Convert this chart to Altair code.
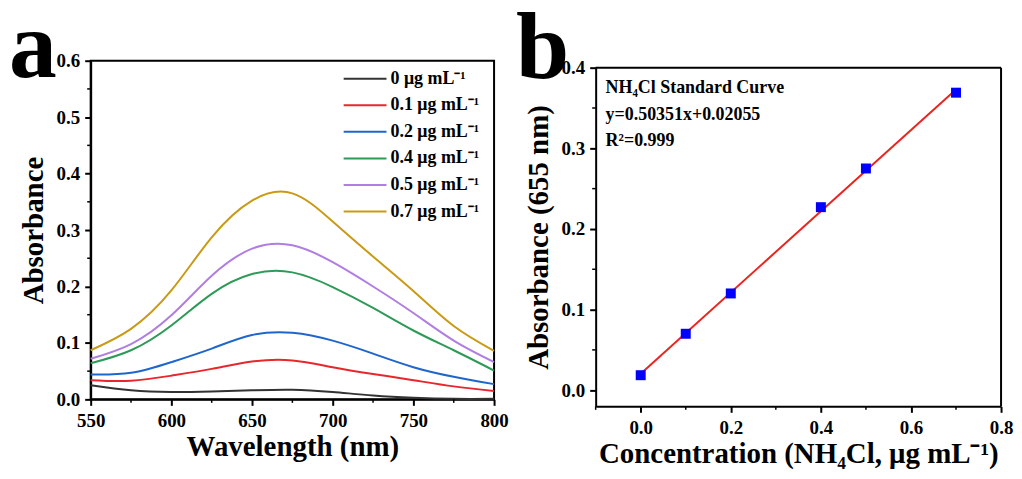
import altair as alt
import pandas as pd

FONT = "Liberation Serif"

# ---------------- Panel a data ----------------
wavelengths = [550, 575, 600, 625, 650, 675, 700, 725, 750, 775, 800]
series_labels = ["0 μg mL⁻¹", "0.1 μg mL⁻¹", "0.2 μg mL⁻¹",
                 "0.4 μg mL⁻¹", "0.5 μg mL⁻¹", "0.7 μg mL⁻¹"]
series_colors = ["#333333", "#e8262d", "#1f66cc", "#2e9a58", "#b07ee0", "#c99a14"]
abs_0 = [0.025, 0.016, 0.013, 0.014, 0.016, 0.017, 0.013, 0.007, 0.003, 0.001, 0.001]
abs_01 = [0.034, 0.033, 0.042, 0.054, 0.067, 0.069, 0.057, 0.045, 0.034, 0.023, 0.015]
abs_02 = [0.044, 0.047, 0.066, 0.090, 0.114, 0.118, 0.104, 0.081, 0.057, 0.040, 0.027]
abs_04 = [0.064, 0.087, 0.131, 0.187, 0.222, 0.225, 0.199, 0.162, 0.122, 0.087, 0.051]
abs_05 = [0.072, 0.098, 0.149, 0.219, 0.267, 0.273, 0.243, 0.200, 0.153, 0.104, 0.066]
abs_07 = [0.087, 0.125, 0.193, 0.287, 0.352, 0.365, 0.315, 0.253, 0.192, 0.130, 0.086]

x_ticks_a = [550, 600, 650, 700, 750, 800]
x_minor_a = [575, 625, 675, 725, 775]
y_ticks_a = [0.0, 0.1, 0.2, 0.3, 0.4, 0.5, 0.6]
y_minor_a = [0.05, 0.15, 0.25, 0.35, 0.45, 0.55]

# ---------------- Panel b data ----------------
conc = [0.0, 0.1, 0.2, 0.4, 0.5, 0.7]
abs655 = [0.0186, 0.070, 0.120, 0.227, 0.275, 0.369]
fit_x = [0.0, 0.7]
fit_y = [0.02055, 0.37301]
x_dom_b = [-0.1, 0.8]
y_dom_b = [-0.02, 0.4]
x_ticks_b = [0.0, 0.2, 0.4, 0.6, 0.8]
x_minor_b = [-0.1, 0.1, 0.3, 0.5, 0.7]
y_ticks_b = [0.0, 0.1, 0.2, 0.3, 0.4]
y_minor_b = [0.05, 0.15, 0.25, 0.35]
notes_b = ["NH₄Cl Standard Curve", "y=0.50351x+0.02055", "R²=0.999"]
notes_y = [0.375, 0.341, 0.309]

W, H = 405, 340
SHIFT_B = 7  # panel b frame sits a little lower than panel a

rows = []
for lab, vals in zip(series_labels, [abs_0, abs_01, abs_02, abs_04, abs_05, abs_07]):
    for w, v in zip(wavelengths, vals):
        rows.append({"wl": w, "abs": v, "series": lab})
spec = pd.DataFrame(rows)

xs_a = alt.Scale(domain=[550, 800], nice=False, zero=False)
ys_a = alt.Scale(domain=[0, 0.6], nice=False)

lines = alt.Chart(spec).mark_line(strokeWidth=2, interpolate="natural").encode(
    x=alt.X("wl:Q", scale=xs_a,
            axis=alt.Axis(values=x_ticks_a, format="d", title="Wavelength (nm)")),
    y=alt.Y("abs:Q", scale=ys_a,
            axis=alt.Axis(values=y_ticks_a, format=".1f", title="Absorbance")),
    color=alt.Color("series:N",
                    scale=alt.Scale(domain=series_labels, range=series_colors),
                    sort=series_labels,
                    legend=alt.Legend(title=None, orient="none", legendX=253, legendY=8,
                                      symbolType="stroke", symbolSize=1849,
                                      symbolStrokeWidth=2, labelFont=FONT,
                                      labelFontSize=18, labelFontWeight="bold",
                                      labelColor="black", clipHeight=20, rowPadding=6.7,
                                      padding=0, labelOffset=3)),
)

minor_xa = alt.Chart(pd.DataFrame({"v": x_minor_a})).mark_rule(color="black", strokeWidth=1.5).encode(
    x=alt.X("v:Q", scale=xs_a), y=alt.value(H), y2=alt.value(H + 3.5))
minor_ya = alt.Chart(pd.DataFrame({"v": y_minor_a})).mark_rule(color="black", strokeWidth=1.5).encode(
    y=alt.Y("v:Q", scale=ys_a), x=alt.value(0), x2=alt.value(-3.5))
letter_a = alt.Chart(pd.DataFrame({"t": ["a"]})).mark_text(
    font=FONT, fontWeight="bold", fontSize=96, align="left", baseline="alphabetic", color="black"
).encode(text="t:N", x=alt.value(-82), y=alt.value(16))

panel_a = alt.layer(lines, minor_xa, minor_ya, letter_a).properties(width=W, height=H)

# ---------------- Panel b ----------------
HB = H + SHIFT_B
xs_b = alt.Scale(domain=x_dom_b, nice=False, zero=False)
ys_b = alt.Scale(domain=y_dom_b, nice=False, zero=False, range=[HB, SHIFT_B])

fit = alt.Chart(pd.DataFrame({"x": fit_x, "y": fit_y})).mark_line(color="#e8251f", strokeWidth=2).encode(
    x=alt.X("x:Q", scale=xs_b,
            axis=alt.Axis(values=x_ticks_b, format=".1f",
                          title="Concentration (NH₄Cl, μg mL⁻¹)")),
    y=alt.Y("y:Q", scale=ys_b,
            axis=alt.Axis(values=y_ticks_b, format=".1f", title="Absorbance (655 nm)")),
)
pts = alt.Chart(pd.DataFrame({"x": conc, "y": abs655})).mark_square(
    color="#0000ff", size=100, opacity=1).encode(
    x=alt.X("x:Q", scale=xs_b), y=alt.Y("y:Q", scale=ys_b))
frame_top = alt.Chart().mark_rule(color="black", strokeWidth=2).encode(
    x=alt.datum(x_dom_b[0], scale=xs_b), x2=alt.datum(x_dom_b[1]), y=alt.datum(y_dom_b[1], scale=ys_b))
frame_right = alt.Chart().mark_rule(color="black", strokeWidth=2).encode(
    x=alt.datum(x_dom_b[1], scale=xs_b), y=alt.datum(y_dom_b[0], scale=ys_b), y2=alt.datum(y_dom_b[1]))
minor_xb = alt.Chart(pd.DataFrame({"v": x_minor_b})).mark_rule(color="black", strokeWidth=1.5).encode(
    x=alt.X("v:Q", scale=xs_b), y=alt.value(HB), y2=alt.value(HB + 3.5))
minor_yb = alt.Chart(pd.DataFrame({"v": y_minor_b})).mark_rule(color="black", strokeWidth=1.5).encode(
    y=alt.Y("v:Q", scale=ys_b), x=alt.value(0), x2=alt.value(-3.5))
notes = alt.Chart(pd.DataFrame({"t": notes_b, "y": notes_y})).mark_text(
    font=FONT, fontWeight="bold", fontSize=18, align="left", baseline="middle", color="black"
).encode(text="t:N", x=alt.value(10), y=alt.Y("y:Q", scale=ys_b))
letter_b = alt.Chart(pd.DataFrame({"t": ["b"]})).mark_text(
    font=FONT, fontWeight="bold", fontSize=96, align="left", baseline="alphabetic", color="black"
).encode(text="t:N", x=alt.value(-80), y=alt.value(17))

panel_b = alt.layer(fit, pts, frame_top, frame_right, minor_xb, minor_yb, notes, letter_b).properties(
    width=407, height=HB, view=alt.ViewBackground(stroke="transparent"))

chart = alt.hconcat(panel_a, panel_b, spacing=5).properties(
    padding={"left": 0, "top": -10, "right": 0, "bottom": 0}
).configure_axis(
    labelFont=FONT, labelFontSize=19, labelFontWeight="bold", labelColor="black",
    titleFont=FONT, titleFontSize=29, titleFontWeight="bold", titleColor="black",
    domainColor="black", domainWidth=2, tickColor="black", tickWidth=2, tickSize=6,
    labelFlush=False, labelOverlap=False, grid=False
).configure_axisY(titlePadding=8, labelPadding=5).configure_axisX(
    titlePadding=2, labelPadding=6).configure_view(
    stroke="black", strokeWidth=2
)

chart.save("out.html", embed_options={"renderer": "svg", "actions": False})
